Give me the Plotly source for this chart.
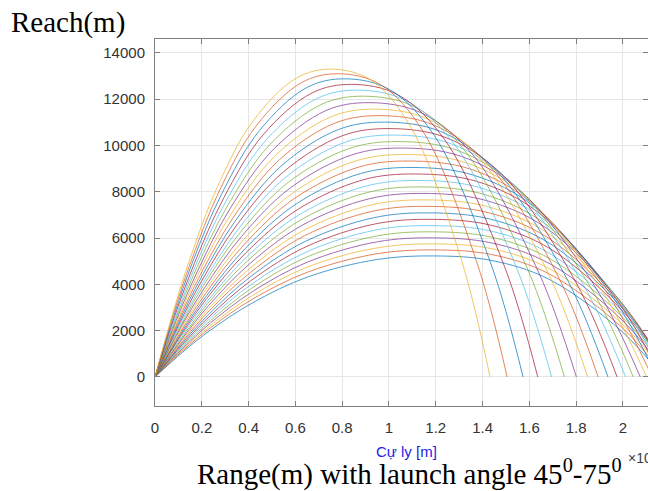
import plotly.graph_objects as go

# ---------------- data ----------------
launch_angles = list(range(45, 76))  # 31 trajectories, 45..75 degrees

matlab_colors = ["#0072BD", "#D95319", "#EDB120", "#7E2F8E", "#77AC30", "#4DBEEE", "#A2142F"]

# horizontal distance [m] of the sampled points of each trajectory
trajectory_x = [
    [0, 1190, 2380, 4160, 6550, 9520, 11900, 14350, 16800, 19940, 21710],
    [0, 1190, 2380, 4160, 6550, 9520, 11900, 14380, 16850, 20020, 21800],
    [0, 1190, 2380, 4160, 6540, 9510, 11890, 14390, 16890, 20080, 21880],
    [0, 1190, 2370, 4150, 6530, 9500, 11870, 14390, 16910, 20140, 21950],
    [0, 1180, 2370, 4140, 6510, 9470, 11840, 14380, 16930, 20180, 22010],
    [0, 1180, 2360, 4130, 6490, 9440, 11800, 14370, 16930, 20210, 22060],
    [0, 1180, 2350, 4110, 6460, 9400, 11750, 14340, 16920, 20230, 22090],
    [0, 1170, 2340, 4090, 6430, 9350, 11690, 14290, 16900, 20230, 22100],
    [0, 1160, 2320, 4070, 6390, 9300, 11620, 14240, 16860, 20210, 22090],
    [0, 1150, 2310, 4040, 6350, 9230, 11540, 14170, 16800, 20170, 22060],
    [0, 1150, 2290, 4010, 6300, 9160, 11450, 14090, 16730, 20100, 22000],
    [0, 1140, 2270, 3970, 6240, 9080, 11350, 13990, 16630, 20010, 21910],
    [0, 1120, 2250, 3930, 6180, 8990, 11240, 13880, 16520, 19890, 21790],
    [0, 1110, 2220, 3890, 6120, 8900, 11120, 13750, 16380, 19750, 21640],
    [0, 1100, 2200, 3850, 6040, 8790, 10990, 13610, 16230, 19580, 21460],
    [0, 1090, 2170, 3800, 5970, 8680, 10850, 13450, 16050, 19380, 21250],
    [0, 1070, 2140, 3750, 5890, 8560, 10700, 13280, 15860, 19150, 21010],
    [0, 1050, 2110, 3690, 5800, 8430, 10540, 13090, 15640, 18900, 20740],
    [0, 1040, 2070, 3630, 5700, 8300, 10370, 12890, 15410, 18630, 20440],
    [0, 1020, 2040, 3570, 5600, 8150, 10190, 12670, 15150, 18320, 20110],
    [0, 1000, 2000, 3500, 5500, 8000, 10000, 12440, 14880, 18000, 19750],
    [0, 980, 1960, 3430, 5390, 7840, 9800, 12190, 14580, 17640, 19360],
    [0, 960, 1920, 3360, 5270, 7670, 9590, 11930, 14270, 17260, 18940],
    [0, 940, 1870, 3280, 5150, 7500, 9370, 11650, 13930, 16850, 18490],
    [0, 910, 1830, 3200, 5030, 7310, 9140, 11360, 13580, 16410, 18010],
    [0, 890, 1780, 3120, 4900, 7120, 8900, 11050, 13200, 15950, 17500],
    [0, 870, 1730, 3030, 4760, 6920, 8650, 10730, 12800, 15460, 16950],
    [0, 840, 1680, 2940, 4610, 6710, 8390, 10380, 12380, 14930, 16360],
    [0, 810, 1620, 2840, 4470, 6500, 8120, 10020, 11930, 14360, 15730],
    [0, 780, 1570, 2740, 4310, 6270, 7840, 9640, 11450, 13750, 15050],
    [0, 760, 1510, 2640, 4150, 6040, 7550, 9240, 10940, 13100, 14320],
]

# height [m] of the same sampled points
trajectory_y = [
    [0, 1080, 2030, 3200, 4330, 5080, 5230, 5040, 4240, 1980, 0],
    [0, 1140, 2130, 3360, 4540, 5330, 5490, 5290, 4450, 2080, 0],
    [0, 1190, 2230, 3520, 4760, 5580, 5750, 5540, 4660, 2180, 0],
    [0, 1240, 2330, 3680, 4970, 5840, 6010, 5790, 4870, 2280, 0],
    [0, 1300, 2430, 3840, 5190, 6090, 6270, 6040, 5080, 2380, 0],
    [0, 1350, 2540, 4010, 5410, 6350, 6540, 6300, 5300, 2480, 0],
    [0, 1410, 2640, 4170, 5630, 6610, 6810, 6560, 5520, 2580, 0],
    [0, 1470, 2750, 4340, 5860, 6880, 7090, 6830, 5750, 2690, 0],
    [0, 1520, 2860, 4510, 6100, 7160, 7370, 7100, 5970, 2790, 0],
    [0, 1580, 2970, 4680, 6330, 7430, 7650, 7370, 6200, 2900, 0],
    [0, 1640, 3080, 4860, 6560, 7700, 7930, 7640, 6430, 3010, 0],
    [0, 1700, 3190, 5030, 6790, 7970, 8210, 7910, 6650, 3110, 0],
    [0, 1760, 3290, 5200, 7020, 8240, 8490, 8180, 6880, 3220, 0],
    [0, 1810, 3400, 5370, 7250, 8520, 8770, 8450, 7110, 3320, 0],
    [0, 1870, 3510, 5540, 7480, 8790, 9050, 8720, 7340, 3430, 0],
    [0, 1930, 3620, 5710, 7720, 9060, 9330, 8990, 7560, 3540, 0],
    [0, 1990, 3730, 5890, 7950, 9330, 9610, 9260, 7790, 3640, 0],
    [0, 2050, 3840, 6060, 8180, 9600, 9890, 9530, 8020, 3750, 0],
    [0, 2100, 3950, 6230, 8410, 9870, 10170, 9800, 8240, 3850, 0],
    [0, 2160, 4050, 6400, 8640, 10150, 10450, 10070, 8470, 3960, 0],
    [0, 2220, 4160, 6570, 8870, 10420, 10730, 10340, 8700, 4070, 0],
    [0, 2280, 4270, 6740, 9110, 10690, 11010, 10610, 8920, 4170, 0],
    [0, 2340, 4380, 6910, 9340, 10960, 11290, 10880, 9150, 4280, 0],
    [0, 2390, 4490, 7090, 9570, 11230, 11570, 11150, 9380, 4390, 0],
    [0, 2450, 4600, 7260, 9800, 11510, 11850, 11420, 9600, 4490, 0],
    [0, 2510, 4710, 7430, 10030, 11780, 12130, 11690, 9830, 4600, 0],
    [0, 2560, 4810, 7590, 10250, 12030, 12390, 11940, 10040, 4700, 0],
    [0, 2620, 4900, 7740, 10450, 12270, 12640, 12190, 10250, 4790, 0],
    [0, 2660, 5000, 7890, 10650, 12510, 12880, 12420, 10440, 4880, 0],
    [0, 2710, 5080, 8020, 10830, 12720, 13100, 12630, 10620, 4970, 0],
    [0, 2750, 5160, 8150, 11000, 12910, 13300, 12820, 10780, 5040, 0],
]

x_tick_vals = [0, 2000, 4000, 6000, 8000, 10000, 12000, 14000, 16000, 18000, 20000]
x_tick_text = ["0", "0.2", "0.4", "0.6", "0.8", "1", "1.2", "1.4", "1.6", "1.8", "2"]
y_tick_vals = [0, 2000, 4000, 6000, 8000, 10000, 12000, 14000]
y_tick_text = ["0", "2000", "4000", "6000", "8000", "10000", "12000", "14000"]

x_range = [0, 21070]
y_range = [-1253, 14600]

# ---------------- figure ----------------
W, H = 648, 491
ML, MR, MT, MB = 155, 0, 39, 85
PW, PH = W - ML - MR, H - MT - MB


def px(xp):
    return (xp - ML) / PW


def py(yp):
    return (H - MB - yp) / PH


fig = go.Figure()
for i, ang in enumerate(launch_angles):
    fig.add_trace(go.Scatter(
        x=trajectory_x[i], y=trajectory_y[i], mode="lines",
        name=f"{ang}°",
        line=dict(color=matlab_colors[i % len(matlab_colors)], width=1,
                  shape="spline", smoothing=1.0),
        opacity=0.7, showlegend=False, hoverinfo="skip",
    ))

axis_col = "#808080"
tick_font = dict(family="Liberation Sans, Arial, sans-serif", size=15, color="#333333")

fig.update_layout(
    width=W, height=H,
    margin=dict(l=ML, r=MR, t=MT, b=MB, pad=0),
    paper_bgcolor="white", plot_bgcolor="white",
    showlegend=False,
    xaxis=dict(
        range=x_range, tickmode="array", tickvals=x_tick_vals, ticktext=x_tick_text,
        ticks="inside", ticklen=5, tickcolor=axis_col, tickwidth=1,
        showline=True, linecolor=axis_col, linewidth=1, mirror="ticks",
        showgrid=True, gridcolor="#e6e6e6", gridwidth=1, zeroline=False,
        tickfont=tick_font, ticklabelstandoff=8,
    ),
    yaxis=dict(
        range=y_range, tickmode="array", tickvals=y_tick_vals, ticktext=y_tick_text,
        ticks="inside", ticklen=5, tickcolor=axis_col, tickwidth=1,
        showline=True, linecolor=axis_col, linewidth=1, mirror="ticks",
        showgrid=True, gridcolor="#e6e6e6", gridwidth=1, zeroline=False,
        tickfont=tick_font, ticklabelstandoff=6,
    ),
)

serif = "Liberation Serif, Times New Roman, serif"
sans = "Liberation Sans, Arial, sans-serif"

fig.add_annotation(text="Reach(m)", xref="paper", yref="paper",
                   x=px(9), y=py(22), xanchor="left", yanchor="middle",
                   showarrow=False, font=dict(family=serif, size=29, color="#000000"))
fig.add_annotation(text="Cự ly [m]", xref="paper", yref="paper",
                   x=px(406), y=py(451), xanchor="center", yanchor="middle",
                   showarrow=False, font=dict(family=sans, size=15, color="#2323e6"))
fig.add_annotation(text="×10<sup>4</sup>", xref="paper", yref="paper",
                   x=px(626), y=py(457), xanchor="left", yanchor="middle",
                   showarrow=False, font=dict(family=sans, size=14, color="#404040"))
fig.add_annotation(text="Range(m) with launch angle 45<sup>0</sup>-75<sup>0</sup>",
                   xref="paper", yref="paper",
                   x=px(409), y=py(473), xanchor="center", yanchor="middle",
                   showarrow=False, font=dict(family=serif, size=29, color="#000000"))

fig.write_html("out.html")
